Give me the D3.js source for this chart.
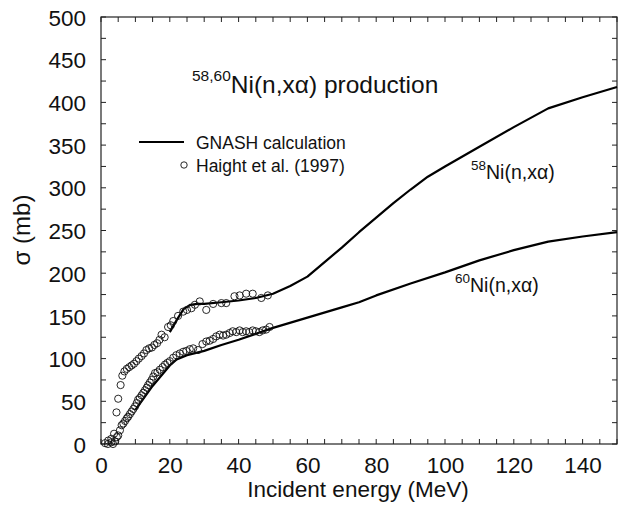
<!DOCTYPE html>
<html><head><meta charset="utf-8">
<script src="https://cdn.jsdelivr.net/npm/d3@7"></script>
<style>body{margin:0;background:#fff}svg{display:block}text{font-family:"Liberation Sans",Arial,sans-serif;fill:#111}</style>
</head><body><svg id="c" width="618" height="508"></svg>
<script>
const xTicks=[0,20,40,60,80,100,120,140];
const yTicks=[0,50,100,150,200,250,300,350,400,450,500];
const gnash58E=[20,22,24,26,28,30,35,40,45,50,55,60,65,70,75,80,85,90,95,100,110,120,130,140,150];
const gnash58S=[131,145,158,163,164,164,166,168,171,176,185,196,213,230,248,265,282,298,313,325,348,371,393,406,418];
const gnash60E=[10,15,20,22,25,30,35,40,45,50,60,70,75,80,90,100,110,120,130,140,150];
const gnash60S=[40,68,92,99,104,109,116,122,129,136,148,160,166,174,188,201,215,227,237,243,248];
const haight58E=[2.0,3.0,3.8,4.5,5.0,5.7,6.2,6.8,7.5,8.2,8.9,9.6,10.3,11.0,11.8,12.5,13.2,14.0,14.8,15.5,16.3,17.0,17.6,18.5,19.5,20.3,21.0,22.4,23.9,25.0,26.3,27.3,28.7,30.6,32.6,35.0,36.4,38.8,40.3,42.2,44.1,46.6,48.5];
const haight58S=[0,2,12,37,53,69,80,85,88,90,92,94,97,100,103,106,110,112,113,116,118,122,128,125,137,139,144,150,155,157,159,163,167,157,164,165,165,173,174,176,176,171,174];
const haight60E=[1.2,2.1,3.0,3.5,4.1,4.6,5.0,5.5,6.0,6.5,7.0,7.5,7.9,8.4,8.9,9.4,9.9,10.4,10.8,11.3,11.8,12.3,12.8,13.3,13.7,14.2,14.7,15.2,15.7,16.4,17.1,17.9,18.6,19.3,20.0,21.0,21.9,22.9,23.9,24.8,25.8,26.8,28.2,29.5,30.6,31.6,32.6,33.5,34.5,35.5,36.4,37.4,38.3,39.3,40.3,41.2,42.2,43.1,44.1,45.0,46.0,47.0,48.0,49.0];
const haight60S=[1,4,6,0,3,8,10,16,22,24,27,30,32,35,38,41,44,48,52,54,57,60,63,66,69,72,75,79,83,84,87,90,93,95,97,101,104,106,108,109,111,112,110,117,120,121,123,126,128,127,128,130,132,131,133,131,132,131,133,132,131,133,134,137];

const svg=d3.select("#c");
const L=101,R=617,T=17,B=444;
const x=d3.scaleLinear().domain([0,150]).range([L,R]);
const y=d3.scaleLinear().domain([0,500]).range([B,T]);

svg.append("rect").attr("x",L).attr("y",T).attr("width",R-L).attr("height",B-T).attr("fill","none").attr("stroke","#222").attr("stroke-width",1.2);

const xMinor=d3.range(0,151,5), yMinor=d3.range(0,501,25);
const tl=5;
const tk=svg.append("g").attr("stroke","#222").attr("stroke-width",1);
xMinor.forEach(v=>{
  tk.append("line").attr("x1",x(v)).attr("x2",x(v)).attr("y1",B).attr("y2",B-tl);
  tk.append("line").attr("x1",x(v)).attr("x2",x(v)).attr("y1",T).attr("y2",T+tl);
});
yMinor.forEach(v=>{
  tk.append("line").attr("x1",L).attr("x2",L+tl).attr("y1",y(v)).attr("y2",y(v));
  tk.append("line").attr("x1",R).attr("x2",R-tl).attr("y1",y(v)).attr("y2",y(v));
});

const FS=22.5;
const xa=svg.append("g").attr("transform",`translate(0,${B})`).call(d3.axisBottom(x).tickValues(xTicks).tickSize(0).tickPadding(13).tickFormat(d3.format("d")));
xa.select(".domain").remove();
xa.selectAll("text").attr("font-size",FS).attr("font-family","Liberation Sans, Arial, sans-serif").attr("fill","#111");
const ya=svg.append("g").attr("transform",`translate(${L},0)`).call(d3.axisLeft(y).tickValues(yTicks).tickSize(0).tickPadding(15).tickFormat(d3.format("d")));
ya.select(".domain").remove();
ya.selectAll("text").attr("font-size",FS).attr("font-family","Liberation Sans, Arial, sans-serif").attr("fill","#111").attr("dy","0.36em");

svg.append("text").attr("x",358).attr("y",497).attr("text-anchor","middle").attr("font-size",22.5).text("Incident energy (MeV)");
svg.append("text").attr("transform","translate(30,230) rotate(-90)").attr("text-anchor","middle").attr("font-size",24).text("σ (mb)");

const line=d3.line().x(d=>x(d[0])).y(d=>y(d[1]));
[[gnash58E,gnash58S],[gnash60E,gnash60S]].forEach(([E,S])=>{
  svg.append("path").datum(E.map((e,i)=>[e,S[i]])).attr("d",line).attr("fill","none").attr("stroke","#000").attr("stroke-width",2.2).attr("stroke-linejoin","round");
});
[[haight58E,haight58S],[haight60E,haight60S]].forEach(([E,S])=>{
  svg.append("g").selectAll("circle").data(E.map((e,i)=>[e,S[i]])).join("circle")
   .attr("cx",d=>x(d[0])).attr("cy",d=>y(d[1])).attr("r",3.6).attr("fill","none").attr("stroke","#111").attr("stroke-width",0.9);
});

const t=svg.append("text").attr("x",192).attr("y",93).attr("font-size",24.5);
t.append("tspan").attr("font-size",15.5).attr("dy",-12).text("58,60");
t.append("tspan").attr("dy",12).text("Ni(n,xα) production");

svg.append("line").attr("x1",139).attr("x2",184).attr("y1",142).attr("y2",142).attr("stroke","#000").attr("stroke-width",2);
svg.append("text").attr("x",196).attr("y",149).attr("font-size",17.5).text("GNASH calculation");
svg.append("circle").attr("cx",184).attr("cy",165).attr("r",3.2).attr("fill","none").attr("stroke","#111").attr("stroke-width",0.9);
svg.append("text").attr("x",196).attr("y",172).attr("font-size",17.5).text("Haight et al. (1997)");

function lab(xp,yp,sup){
  const tt=svg.append("text").attr("x",xp).attr("y",yp).attr("font-size",19.5);
  tt.append("tspan").attr("font-size",13.5).attr("dy",-9).text(sup);
  tt.append("tspan").attr("dy",9).text("Ni(n,xα)");
}
lab(471,179,"58");
lab(455,292,"60");
</script></body></html>
